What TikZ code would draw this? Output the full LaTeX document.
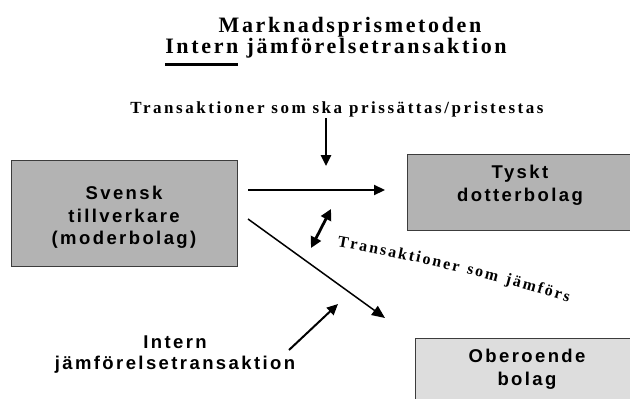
\documentclass[tikz,border=0pt]{standalone}
\usepackage{fontspec}
\setmainfont{Liberation Serif}
\setsansfont{Liberation Sans}
\newfontfamily\titlefont[LetterSpace=12]{Liberation Serif}
\newfontfamily\labelfont[LetterSpace=15]{Liberation Serif}
\newfontfamily\boxfont[LetterSpace=13]{Liberation Sans}
\newfontfamily\curvefont{Liberation Serif}
\usepackage{xcolor}
\usetikzlibrary{arrows.meta, positioning, calc, decorations.text}

\definecolor{boxgray}{HTML}{B3B3B3}
\definecolor{palegray}{HTML}{DDDDDD}
\definecolor{edgegray}{HTML}{3C3C3C}

\newcommand{\deepul}[1]{\setbox0\hbox{#1}\rlap{\rule[-12.5pt]{\wd0}{2.6pt}}\box0\relax}

\begin{document}
\begin{tikzpicture}[
    x=1pt, y=-1pt,
    company/.style={rectangle, draw=edgegray, line width=0.9pt, minimum width=226pt, minimum height=76pt, inner sep=0pt},
    boxtext/.style={font=\boxfont\bfseries\fontsize{18.5}{22.5}\selectfont, align=center, inner sep=0pt, anchor=north},
    heading/.style={font=\titlefont\bfseries\fontsize{22}{24}\selectfont, inner sep=0pt, anchor=base},
    arrow/.style={-{Triangle[length=11pt,width=10pt]}, line width=2.2pt}
]
\useasboundingbox (0,0) rectangle (630,399);

% titles
\node[heading] (title) at (350,32) {Marknadsprismetoden};
\node[heading] (subtitle) at (336,53) {\deepul{Intern} jämförelsetransaktion};
\node[heading, font=\labelfont\bfseries\fontsize{17}{19}\selectfont] (pricing) at (337,113) {Transaktioner som ska prissättas/pristestas};

% companies
\node[company, fill=boxgray, minimum height=106pt] (svensk) at (124,213) {};
\node[boxtext] (svensktext) at ($(svensk.north)+(0,26.5)$) {Svensk\\tillverkare\\(moderbolag)};
\node[company, fill=boxgray] (tyskt) at (520,192) {};
\node[boxtext] (tyskttext) at ($(tyskt.north)+(0,11.5)$) {Tyskt\\dotterbolag};
\node[company, fill=palegray, minimum width=224pt] (oberoende) at (527,376) {};
\node[boxtext] (oberoendetext) at ($(oberoende.north)+(0,11.5)$) {Oberoende\\bolag};

% comparison label
\node[boxtext, font=\boxfont\bfseries\fontsize{18.5}{21}\selectfont] (intern) at (175,335.5) {Intern\\jämförelsetransaktion};

% arrow ends
\coordinate (pricetop) at (326,118);
\coordinate (pricetip) at (326,166);
\coordinate (salestart) at (248,190);
\coordinate (saleend) at (385,190);
\coordinate (diagstart) at (248,219);
\coordinate (diagend) at (385,318);
\coordinate (cmpupper) at (331,209);
\coordinate (cmplower) at (311,248);
\coordinate (internstart) at (289,350);
\coordinate (interntip) at (338,304);

\draw[arrow, line width=2.6pt] (pricetop) -- (pricetip);
\draw[arrow] (salestart) -- (saleend);
\draw[-{Triangle[length=13pt,width=11pt]}, line width=1.5pt] (diagstart) -- (diagend);
\draw[{Triangle[length=11pt,width=11pt]}-{Triangle[length=11pt,width=11pt]}, line width=2.8pt] (cmpupper) -- (cmplower);
\draw[arrow, line width=2pt] (internstart) -- (interntip);

% curved label
\path[decorate, decoration={text along path, text={|\curvefont\bfseries\fontsize{16}{16}\selectfont\kern2.1pt|Transaktioner som jämförs}}]
    (335,246) .. controls (412,259.6) and (491,278.5) .. (568,302) -- ++(20,9);

\end{tikzpicture}
\end{document}
